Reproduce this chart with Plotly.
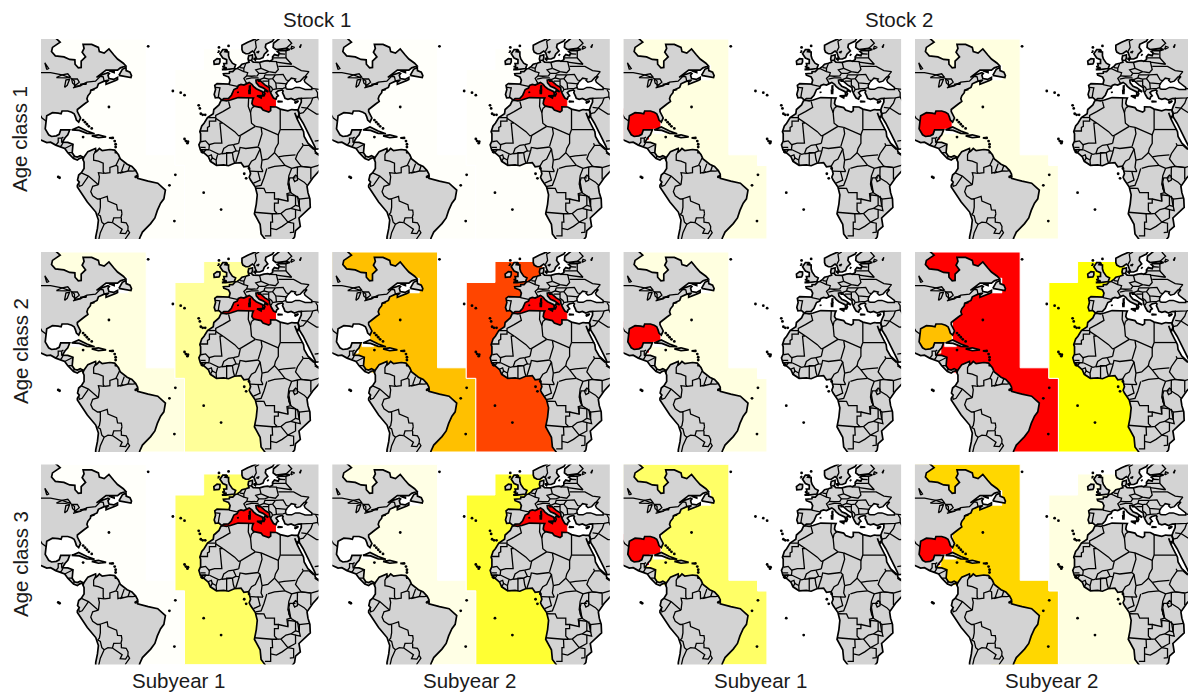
import plotly.graph_objects as go

# ---------- values: zone colours per panel (row by row: S1-Y1, S1-Y2, S2-Y1, S2-Y2) ----------
GOM_COLORS = ["#FFFFFF", "#FFFFFF", "#FF0000", "#FF0000",
              "#FFFFFF", "#FFFFFF", "#FF0000", "#FFC000",
              "#FFFFFF", "#FFFFFF", "#FF0000", "#FF0000"]
WEST_COLORS = ["#FFFFFA", "#FFFFFA", "#FFFFE0", "#FFFFE0",
               "#FFFFE0", "#FFC000", "#FFFFE0", "#FF0000",
               "#FFFFFA", "#FFFFE5", "#FFFF66", "#FFD700"]
EAST_COLORS = ["#FFFFFA", "#FFFFFA", "#FFFFFF", "#FFFFFF",
               "#FFFF99", "#FF4500", "#FFFFFF", "#FFFF00",
               "#FFFF66", "#FFFF33", "#FFFFFF", "#FFFFE0"]
MED_COLORS = ["#FF0000", "#FF0000", "#FFFFFF", "#FFFFFF",
              "#FF0000", "#FF0000", "#FFFFFF", "#FFFFFF",
              "#FF0000", "#FF0000", "#FFFFFF", "#FFFFFF"]

COLUMN_TITLES = ["Stock 1", "Stock 2"]
ROW_TITLES = ["Age class 1", "Age class 2", "Age class 3"]
BOTTOM_TITLES = ["Subyear 1", "Subyear 2", "Subyear 1", "Subyear 2"]

# ---------- zones (lon, lat) ----------
ZONE_GOM = [(-100, 32), (-80.5, 32), (-80.5, 22), (-86.5, 22), (-86.5, 17), (-100, 17)]
ZONE_WEST = [(-100, 65), (-45, 65), (-45, 10), (-30, 10), (-30, 5), (-25, 5), (-25, -30), (-60, -30), (-66, -10),
             (-74, 2), (-78, 7.3), (-80.5, 7.8), (-83, 9.5), (-85, 11.5), (-87, 13.6), (-90, 15), (-90, 18),
             (-86.5, 20), (-86.5, 22), (-80.5, 22), (-80.5, 32), (-85, 35), (-100, 50)]
ZONE_EAST = [(-15, 60.5), (10, 60.5), (10, 53), (3, 48), (0, 44), (-4, 41), (-5.5, 36.2), (-5.5, 35), (-3, 32), (20, 0),
             (20, -30), (-25, -30), (-25, 5), (-30, 5), (-30, 50.5), (-15, 50.5)]
ZONE_MED = [(-5.5, 36.2), (-5.5, 35), (5, 30), (22.5, 30), (22.5, 40), (20, 42.5), (14, 46.5), (11, 46), (8, 45),
            (3, 44), (-1, 41)]
GAP_LAWRENCE = [(-72, 45), (-72, 50), (-63.5, 52.6), (-54.5, 52.6), (-54.5, 45.5), (-63.5, 45.5)]
GAP_STRAIT = [(-84.5, 22.2), (-78.3, 22.2), (-78.3, 20), (-84.5, 20)]

# ---------- land outlines (lon, lat) ----------
AMERICAS = [(-110, 70), (-93, 66), (-90, 63.5), (-94, 61), (-94.5, 59), (-92.5, 57), (-88, 56.5), (-85, 55.3), (-82.3, 55.1),
            (-82.2, 53), (-80.5, 51.3), (-79, 51.5), (-79, 54.5), (-76.7, 56.5), (-78.5, 58.7), (-77.5, 60.5), (-78, 62.4),
            (-73.5, 62.4), (-70, 61), (-69.5, 59), (-67, 58.3), (-64.5, 60.3), (-62, 57.5), (-60, 55.5), (-57, 53.5),
            (-55.7, 52.2), (-58.5, 51.3), (-60, 50.2), (-66, 50.2), (-68, 49), (-71, 46.8), (-68, 48), (-65, 49),
            (-64.3, 48.6), (-65, 47.8), (-64.5, 46.2), (-62, 45.8), (-60, 46.8), (-60, 45.8), (-61, 45.3), (-64, 44.2),
            (-66, 43.5), (-66, 44.5), (-64.5, 45.5), (-67, 45), (-70, 43.7), (-70.7, 42), (-74, 40.6), (-74.2, 39.5),
            (-75.5, 38), (-76, 36.6), (-75.5, 35.3), (-77.5, 34), (-81, 31.5), (-81, 30.5), (-79.3, 27.5), (-80.3, 25.5),
            (-81.5, 26.5), (-82, 28), (-82.7, 29.5), (-84, 30.2), (-86, 30.8), (-89, 30.8), (-89.5, 29.5), (-91, 29.8),
            (-94, 30), (-97, 28.5), (-97.5, 25), (-97.8, 22.3), (-96, 19.5), (-94.5, 18.7), (-92, 19), (-90.5, 19.7),
            (-89.7, 21.8), (-85, 21.8), (-86, 19.5), (-87.5, 18), (-88.8, 16), (-86, 15.9), (-83.3, 15), (-83.5, 12),
            (-83.7, 11), (-82.5, 9.3), (-81, 8.9), (-79.5, 9.6), (-77.7, 8.7), (-75.5, 11.5), (-74, 12), (-71.5, 13),
            (-71.3, 12), (-71.7, 11.2), (-70.5, 12), (-69.5, 13), (-68, 12), (-64, 12.5), (-61.5, 12.2), (-59.5, 10),
            (-58.5, 8), (-55, 5.5), (-52.5, 4.5), (-50.5, 2.5), (-49.5, 0.8), (-49.5, -1.2), (-44, -2.5), (-39, -3.5),
            (-35, -6.8), (-35.8, -10.9), (-37.5, -13), (-39.2, -16.4), (-40.5, -20), (-42.7, -22.7), (-47, -26.7),
            (-48.4, -29.5), (-49, -32), (-71.5, -32), (-71.4, -29), (-70.5, -25), (-70, -21), (-71.4, -17.2), (-75.8, -12.4),
            (-79, -8), (-81, -5.3), (-81, -4.5), (-80, -3), (-80.9, -2), (-80.3, 0.4), (-78.9, 1.5), (-77.5, 3.5),
            (-77.5, 6.5), (-77.9, 7.2), (-78.5, 8.7), (-80, 8.2), (-81, 7.5), (-83, 8.2), (-85, 10), (-86, 11), (-87.6, 13),
            (-90, 13.8), (-92.3, 14.6), (-95, 16), (-97, 15.8), (-100, 17), (-103, 18), (-105.5, 20), (-105.5, 22), (-110, 25)]
EURASIA = [(50, 70), (30, 71), (25, 71), (15, 68), (12, 65), (8, 63.5), (5, 62), (5, 60), (5.5, 58.8), (7, 58), (8.5, 58),
           (10.5, 59.3), (11.5, 58.5), (12, 57), (12.8, 55.5), (14.3, 55.5), (16, 56.2), (16.7, 57.8), (18.5, 59.3),
           (17.2, 61), (17.5, 62.5), (21, 64), (22, 65.5), (25, 65.5), (21.5, 63), (21.3, 61), (22.8, 60), (25, 60.2),
           (28, 60.5), (30, 60), (28, 59.5), (24.5, 59.5), (23.5, 59), (24.5, 58.3), (24, 57.1), (22, 57.6), (21, 56.5),
           (21, 55.2), (19.5, 54.4), (18.5, 54.7), (16.5, 54.5), (14.2, 53.9), (12, 54.2), (10.9, 54), (10, 54.8),
           (10.5, 56), (10.5, 57.5), (8.5, 57), (8.2, 55.5), (8.7, 54), (7, 53.5), (5, 53), (4, 52), (2.5, 51),
           (1.5, 50.8), (0.2, 49.5), (-1.5, 49.5), (-1.6, 48.7), (-4.7, 48.5), (-4.5, 47.8), (-2, 47), (-1.2, 45.5),
           (-1.7, 43.6), (-4, 43.6), (-8, 43.8), (-9.2, 43), (-8.8, 41), (-9.5, 38.7), (-8.9, 37), (-7, 37.2),
           (-6.2, 36.5), (-5.5, 36), (-4.5, 36.7), (-2, 36.8), (-0.5, 38.3), (0, 39.5), (0.8, 41), (2.5, 41.7), (3.1, 43),
           (4.5, 43.4), (6, 43.1), (7.5, 43.8), (8.8, 44.4), (10.2, 43.5), (11, 42.5), (12.5, 41.4), (14.2, 40.8),
           (15.7, 40), (16, 38.8), (15.7, 38), (16.5, 38), (17, 39), (16.6, 39.8), (17, 40.5), (18.4, 40), (18.5, 40.2),
           (16, 41.8), (14, 42.5), (12.5, 44.2), (12.3, 45.4), (13.7, 45.7), (13.7, 45), (14.7, 45.1), (17, 43.2),
           (19.3, 42), (19.5, 40.5), (20.5, 38.5), (21.5, 37), (22.8, 36.5), (23.2, 37.5), (24, 38), (22.8, 39.5),
           (23.8, 40.3), (26, 40.8), (26.5, 40.3), (26.2, 39.5), (27, 38), (27.5, 36.8), (29, 36.3), (30.7, 36.8),
           (32.5, 36), (34.5, 36.7), (36, 36.8), (36, 35), (35, 33), (34.3, 31.3), (34.9, 29.5), (35, 28), (37, 25),
           (39, 21.5), (41, 18), (43, 14), (43.5, 12.7), (45, 12.8), (50, 15)]
AFRICA = [(-5.9, 35.8), (-5.3, 35.9), (-3, 35.6), (-1, 36), (3, 37.2), (7, 37.2), (10, 37.3), (11, 37), (10.5, 36),
          (10.2, 34.3), (11, 33.2), (15, 32.4), (16, 31.3), (19, 30.3), (20, 31), (20, 32.8), (23, 32.7), (25, 31.7),
          (29, 30.9), (31, 31.5), (32.3, 31.3), (34.3, 31.3), (34.9, 29.5), (34.3, 27.8), (33.2, 28.5), (32.6, 30),
          (33.8, 27), (35.5, 24), (37.2, 21), (37.5, 18.7), (39.5, 15.5), (43.1, 12.5), (43.3, 11.5), (44.5, 10.4),
          (51, 12), (51, 10), (47, 4), (42, -1), (39, -5), (39.5, -8), (40.5, -11), (40.7, -15), (36, -19), (34.8, -20),
          (35.5, -24), (33, -26), (32.5, -29), (30, -32), (18, -35), (17, -30), (15, -27.6), (14.5, -23), (11.5, -18),
          (12.5, -13.4), (13, -9), (12, -5.3), (9.5, -2), (8.8, -0.7), (9.5, 1), (9, 3), (8.5, 4.6), (6, 4.3),
          (4.5, 6.3), (1, 6), (-2, 4.8), (-4.5, 5.2), (-8.3, 5), (-11.5, 6.9), (-12.5, 9), (-13.5, 9.8),
          (-15, 10.9), (-16.7, 12.3), (-17.5, 14.7), (-16.6, 16.5), (-16.6, 20), (-17, 21), (-16, 23.7), (-14.8, 25),
          (-13, 27.7), (-10, 29.5), (-9.7, 31.5), (-7, 33.7)]
GREAT_BRITAIN = [(-5.5, 50.5), (-3.5, 50.5), (1, 51), (1.7, 52.7), (0, 53.5), (-1.5, 55.5), (-2, 57), (-2, 58.8), (-3.8, 59),
                 (-3, 60), (-5, 60), (-6.5, 58), (-5, 56), (-3, 55.2), (-3, 53.4), (-4.5, 53.3), (-4.2, 52.3),
                 (-5.2, 51.8), (-3, 51.3)]
IRELAND = [(-6.5, 54), (-7, 53.2), (-9.5, 53), (-9.7, 54.5), (-8, 55.7), (-6.5, 55.5)]
NEWFOUNDLAND = [(-59.3, 47.7), (-55.5, 46.9), (-53, 46.7), (-52.7, 47.6), (-53.5, 49.2), (-55.5, 50), (-55.6, 51.5), (-57.5, 50.6), (-59, 48.5)]
CUBA = [(-84, 21.8), (-80.3, 23.2), (-76, 21.3), (-72, 20), (-76, 20.2), (-80, 21.6)]
HISPANIOLA = [(-73.5, 19), (-70, 19.5), (-66, 18.5), (-70, 18.1)]
PUERTO_RICO = [(-64.5, 18), (-63, 18.2), (-63.2, 17.8)]
TRINIDAD = [(-61.5, 11), (-60.8, 11.5), (-60.8, 11)]
SICILY = [(12.8, 38), (15.3, 38.1), (15, 37), (13, 37.6)]
SARDINIA = [(8.6, 41), (9.3, 41), (9.2, 39.2), (8.7, 39.2)]
CORSICA = [(9, 43), (9.3, 42.8), (9.2, 41.5), (8.9, 41.6)]
CRETE = [(23.6, 35.5), (26.3, 35.3), (24, 35.1)]
CYPRUS = [(32.4, 35), (34.5, 35.6), (33.8, 34.9), (32.9, 34.6)]
MALLORCA = [(2.4, 39.6), (3.4, 39.8), (3, 39.4)]
ANTICOSTI = [(-64.5, 49.9), (-61.8, 49.5), (-61.8, 49.1)]
ZEALAND = [(11, 55.7), (12.5, 56), (12, 55)]
GOTLAND = [(18.2, 57), (19, 57.9), (18.8, 57.2)]
LONG_ISLAND = [(-74, 40.6), (-72, 41), (-72.5, 40.7)]
LEWIS = [(-7.6, 59), (-6.8, 59.5), (-7.4, 58.5)]
ISLAND_POLYS = [GREAT_BRITAIN, IRELAND, NEWFOUNDLAND, CUBA, HISPANIOLA, PUERTO_RICO, TRINIDAD, SICILY, SARDINIA,
                CORSICA, CRETE, CYPRUS, MALLORCA, ANTICOSTI, ZEALAND, GOTLAND, LONG_ISLAND, LEWIS]
BLACK_SEA = [(28, 41.4), (27.8, 43), (28.6, 44.3), (29.7, 45.2), (30.8, 46.4), (33, 46), (32.6, 45.4), (33.6, 44.5), (35.5, 45),
             (37.5, 47), (39, 47.2), (37.5, 45.5), (38, 44.4), (41.5, 42), (41.5, 41), (38, 41), (35, 42), (33, 42),
             (31, 41.1), (29, 41.1)]
LAKES = [[(-92, 46.7), (-89, 48), (-86, 48.5), (-84.7, 47), (-87, 46.5), (-92, 46.7)],
         [(-87.7, 42), (-87, 45.5), (-85, 46), (-86.3, 43), (-87.7, 42)],
         [(-84, 46), (-81, 46), (-80, 44.5), (-82, 43), (-83.5, 44), (-84, 46)],
         [(-83.3, 41.8), (-79, 42.8), (-80, 42.2), (-83.3, 41.8)],
         [(-79.7, 43.4), (-76.3, 44), (-76.5, 43.4), (-79.7, 43.4)],
         [(-97, 50.5), (-98, 53.7), (-96, 51), (-97, 50.5)],
         [(31.7, -1), (33, 0.3), (34, -0.3), (34, -2), (32.5, -2.7), (31.7, -1)],
         [(29.3, -3.5), (29.5, -6), (30.5, -8)], [(34, -9.5), (34.8, -14)],
         [(12.5, 58.7), (14, 59.3), (13.5, 58.5), (12.5, 58.7)],
         [(30.5, 60), (32.5, 61), (31, 61.5), (30.5, 60)], [(35, 61), (36, 62.5), (35.5, 61), (35, 61)]]

# ---------- borders (lon, lat) ----------
BORDERS_NORTH_AMERICA = [
    [(-110, 49), (-95, 49), (-89, 48), (-84.5, 46.5), (-82.5, 45), (-82.5, 42.5), (-79, 43), (-76, 44.5), (-71.5, 45), (-69, 47.3), (-67.5, 47), (-67, 45)],
    [(-106, 31.8), (-103, 29), (-101, 29.8), (-99.5, 27.5), (-97.2, 25.9)],
    [(-92.2, 14.6), (-91, 16), (-91, 17.9), (-89.2, 17.9), (-88.3, 18.4)], [(-89.2, 17.9), (-89.2, 15.9)],
    [(-90, 13.8), (-89.3, 14.4), (-88.5, 15.8)], [(-87.6, 13), (-85, 14), (-83.2, 15)],
    [(-85.7, 11), (-83.7, 11)], [(-83, 8.2), (-82.6, 9.6)], [(-77.9, 7.2), (-77.7, 8.7)]]
BORDERS_SOUTH_AMERICA = [
    [(-71.3, 12), (-72.5, 10), (-72.5, 7.4), (-70, 7), (-67.5, 6), (-67.5, 2), (-66.9, 1.2)],
    [(-66.9, 1.2), (-70, 1.5), (-69.5, -0.5), (-70, -4.2)], [(-78.9, 1.4), (-75.2, -0.1), (-70, -4.2)],
    [(-80.3, -3.4), (-80, -5), (-78.5, -4.5), (-75.2, -0.1)], [(-70, -4.2), (-73, -5), (-74, -7.5), (-73, -9.5), (-70.5, -11), (-69, -11)],
    [(-69.5, -11), (-65.4, -9.8), (-65, -12), (-60.5, -13.7), (-60, -16.2), (-58, -16.3), (-57.7, -18)],
    [(-69, -11), (-69, -15), (-69.5, -17.5), (-70.4, -18.3)], [(-70.4, -18.3), (-69, -19), (-68.2, -22), (-67, -23), (-69, -27), (-70, -31)],
    [(-67, -23), (-65, -22), (-62.7, -22.2)], [(-62.7, -22.2), (-62, -20), (-58.2, -19.8), (-57.7, -18)],
    [(-58, -20), (-58, -22), (-55.5, -22.3), (-54.5, -24), (-54.6, -25.6)],
    [(-62.7, -22.2), (-60, -24), (-57.6, -25.3), (-58.6, -27.2), (-55.8, -27.4), (-54.6, -25.6)],
    [(-54.6, -25.6), (-53.7, -27), (-56, -30)], [(-59, 8.5), (-61, 5.2), (-60.8, 5)],
    [(-66.9, 1.2), (-64, 1.5), (-64, 4), (-60.8, 5)], [(-60.8, 5), (-59.9, 4.5), (-59.8, 1.3), (-57, 2)],
    [(-56.5, 5.8), (-58, 2)], [(-53.5, 5), (-54.5, 2.3)], [(-58.8, 1.3), (-54.5, 2.3), (-52, 2.2), (-50.5, 2.5)]]
BORDERS_AFRICA = [
    [(-2, 35.4), (-1.2, 32.5), (-5, 30.5), (-8.7, 28.7), (-8.7, 27.3)], [(-13, 27.7), (-8.7, 27.7)],
    [(-8.7, 27.3), (-8.7, 26), (-12, 26), (-12, 23.5), (-13, 23), (-13, 21.3), (-17, 21.3)],
    [(-8.7, 27.3), (-4.8, 25), (-6.5, 25), (-5.5, 15.5), (-9.3, 15.5), (-12.2, 14.8), (-14, 16.6), (-16.4, 16.2)],
    [(-4.8, 25), (1.2, 21), (3.3, 19), (4.2, 19.2)], [(4.2, 19.2), (12, 23.5)], [(12, 23.5), (10, 25), (9.5, 30), (10, 32)],
    [(8.5, 37.1), (8.3, 33), (9.5, 30)], [(10, 32), (11.5, 33.1)], [(25, 31.6), (25, 22)], [(25, 22), (37, 22)],
    [(25, 22), (24, 19.5), (15, 23)], [(15, 23), (12, 23.5)], [(15, 23), (15.5, 20), (13.5, 14)],
    [(24, 19.5), (24, 15.5), (22.5, 13), (22, 11), (24, 9)], [(15.5, 7.5), (18.5, 8), (22, 11)],
    [(13.5, 13.7), (10, 13.2), (7, 13), (4, 13.5), (3.6, 11.7)], [(3.3, 15.4), (4.2, 19.2)], [(0.5, 14.8), (3.3, 15.4)],
    [(0.5, 14.8), (2, 11.8), (3.6, 11.7)], [(-5.5, 10.5), (-4.5, 13), (-2, 14.5), (0.5, 14.8)],
    [(-12, 12.4), (-8.5, 11), (-7, 10.2), (-5.5, 10.5)], [(-16.7, 12.4), (-12.3, 12.4), (-12, 14.8)],
    [(-16.7, 13.5), (-14, 13.5)], [(-16.7, 12.3), (-13.7, 12.6), (-15, 11)], [(-12.8, 9.3), (-11, 10), (-10.5, 8.5)],
    [(-11.5, 6.9), (-10.5, 8.5), (-8.5, 7.5), (-8.3, 5)], [(-8.5, 7.5), (-7.7, 10.2)], [(-3, 5), (-2.8, 9.5), (-3, 11), (0, 11)],
    [(1.2, 6), (0.5, 8), (0, 11)], [(1.7, 6.2), (2.5, 9), (3.6, 11.7)], [(-5.5, 10.5), (-3, 10.8), (0, 11), (2, 12)],
    [(8.5, 4.6), (10, 7), (12, 8), (14.5, 12.7), (13.5, 13.7)], [(14.5, 12.7), (15, 10), (15.5, 7.5)], [(15.5, 7.5), (15, 4), (16, 2)],
    [(9.3, 2.2), (13.3, 2.2), (16, 2)], [(13.3, 2.2), (14.5, -2), (11, -3.5)], [(12.2, -5), (15, -4.5), (16.5, -1), (18, 3.5)],
    [(18.5, 3.5), (22, 4.5), (27.5, 5)], [(24, 9), (27.5, 5)], [(27.5, 5), (31, 3.6), (34, 4.2), (36, 4.5), (41, 4)],
    [(31, 3.6), (29.5, 0), (29, -4), (30.5, -8), (28.5, -8.5), (29, -12)],
    [(12, -5.9), (16.5, -6), (17.5, -8), (22, -8), (22, -11), (24, -11), (24, -13), (22, -13), (22, -16.5), (23.5, -18), (20.8, -18), (14, -17.4), (11.5, -17.3)],
    [(24, -11), (28, -12), (29, -12), (29, -9), (33, -9.5), (33, -11), (33, -14), (30.5, -15.5), (28, -16), (25.5, -17.8), (23.5, -18)],
    [(20.8, -18), (21, -22), (20, -22), (20, -28.5), (17, -28.5)], [(20, -25), (23, -25.5), (26, -24), (29, -22), (25.3, -17.8)],
    [(29, -22), (33, -20), (33, -16), (30.5, -15.5)], [(33, -14), (35, -14.5), (35, -11), (40.5, -10.5)], [(33, -9.5), (35, -11)],
    [(35, -14.5), (35.5, -16.5), (33, -16)], [(29, -22), (32, -22.5), (32, -26.8), (30, -27)],
    [(33, -1), (30, -1), (29.5, -2.8), (30.5, -8), (33, -9.5)], [(33.9, -1), (37.5, -3), (39.2, -4.6)], [(34, 4.2), (34, 0), (33.9, -1)],
    [(36, 4.5), (41, 3.9)], [(41, 3.9), (41, -1.7)], [(41, 3.9), (45, 5), (48, 8), (43, 11)],
    [(36, 4.5), (33, 8), (34, 10.5), (36, 13), (37, 14.5), (36.5, 15.5)], [(37, 14.5), (40, 14.5), (42.5, 12.5)], [(24, 9), (27, 9.5), (33, 10)]]
BORDERS_EURASIA = [
    [(36, 36.8), (42, 37), (44.5, 37.5), (44.5, 39.5), (43.5, 41)], [(42, 37), (41, 34.5), (39, 32.2)],
    [(36, 32.5), (39, 32.2), (37, 30), (35, 29.5)], [(39, 32.2), (44, 29.3), (48, 29.5)], [(43, 16.5), (47, 17), (52, 19)],
    [(-8.8, 42), (-6.5, 41.8), (-7, 39.5), (-7.4, 37.2)], [(-1.7, 43.3), (3.1, 42.4)],
    [(2.5, 51), (4.5, 50), (6, 49.5), (8, 49), (7.5, 47.5), (6, 46.3), (7, 44), (7.5, 43.8)], [(7, 53.3), (6, 51), (6, 49.5)],
    [(4, 51.4), (6, 51.2)], [(8.7, 54.9), (10, 54.8)], [(14.2, 53.9), (15, 51)],
    [(15, 51), (12.2, 50.3), (13.8, 48.7), (13, 47.5), (10, 47.3), (7.5, 47.5)], [(7, 45.9), (10, 46.5), (13.7, 46.5)],
    [(19.5, 54.4), (23, 54.3), (24, 50.5), (22.5, 49), (19, 49.5), (15, 51)], [(13.8, 48.7), (17, 48.7), (19, 49.5)],
    [(17, 48), (22.5, 48), (21, 46.2), (19, 45.9), (16.5, 46.5), (17, 48)], [(22.5, 48), (26.5, 48.2), (28.2, 45.5), (29.7, 45.2)],
    [(28.6, 43.7), (22.7, 44.2), (21, 46.2)], [(22.7, 44.2), (23, 41.3), (26.5, 41.5), (28, 42)], [(20.2, 39.7), (21, 41), (23, 41.3)],
    [(13.7, 45.5), (16.5, 46.5)], [(19, 45.9), (19, 43), (20.5, 42), (21, 41)], [(15.7, 45), (19, 45)],
    [(24, 52), (32, 52), (36, 50), (40, 49.5), (38, 47.2)], [(21, 56), (28, 56), (31, 53), (23, 54)], [(24.5, 58), (27.5, 57.8)],
    [(28, 59.5), (28, 56)], [(28, 60.5), (31, 63), (29, 65)], [(11.3, 59), (12.5, 61), (12, 64), (14, 65)],
    [(41.5, 41.5), (46, 41)], [(44.5, 37.5), (46, 35), (48, 30)]]

# ---------- tiny islands drawn as specks (lon, lat) ----------
SPECK_LON = [-44, -2, -3, -7, -64.5, -29.8, -32.9, -30.3, -31.1, -27, -25, -17.6, -17, -16.5, -15.5, -14.2, -25, -24.3, -23.5, -23.2,
             -15, -5.9, 6.2, 7.2, 8.7, -91, -90.3, -78, -77, -76, -75, -73.5, -78, -62.5, -61.5, -61, -61, -50.5, -49.8, -16, -15.6]
SPECK_LAT = [61.5, 61.7, 59.5, 61, 32.7, 0.5, -4.5, -21.5, 40.3, 39.5, 38.3, 33.5, 32, 29.5, 29, 29, 17.5, 16.5, 15.5, 16.2,
             -8, -16, 1, -1.2, 3.5, -0.5, -0.9, 26.5, 25.5, 24.5, 23.5, 22.5, 18.4, 18, 16.5, 15, 13.7, -0.5, -0.2, 11.5, 11.2]

# ---------- layout ----------
FIG_W, FIG_H = 1188, 695
COL_LEFT = [41, 332.3, 623.6, 914.9]
PANEL_W = 277.5
ROW_TOP = [39, 252, 464.5]
PANEL_H = 200
LON_RANGE = (-100, 45)
LAT_RANGE = (-30, 65)
LAND_GREY = "#D3D3D3"


def flat(polys):
    xs, ys = [], []
    for p in polys:
        for a, b in p:
            xs.append(a)
            ys.append(b)
        xs.append(None)
        ys.append(None)
    return xs, ys


def closed(p):
    return list(p) + [p[0]]


fig = go.Figure()
layout_axes = {}
common = dict(mode="lines", hoverinfo="skip", showlegend=False)

for r in range(3):
    for c in range(4):
        i = r * 4 + c
        suffix = "" if i == 0 else str(i + 1)
        xa, ya = "x" + suffix, "y" + suffix
        kw = dict(xaxis=xa, yaxis=ya, **common)
        for poly, col in ((ZONE_WEST, WEST_COLORS[i]), (ZONE_EAST, EAST_COLORS[i]), (ZONE_GOM, GOM_COLORS[i]), (ZONE_MED, MED_COLORS[i])):
            px, py = flat([closed(poly)])
            line_col = "#FFFFFF" if poly is not ZONE_MED else col
            fig.add_trace(go.Scatter(x=px, y=py, fill="toself", fillcolor=col, line=dict(color=line_col, width=1), **kw))
        px, py = flat([closed(GAP_LAWRENCE), closed(GAP_STRAIT)])
        fig.add_trace(go.Scatter(x=px, y=py, fill="toself", fillcolor="#FFFFFF", line=dict(color="#FFFFFF", width=0.5), **kw))
        px, py = flat([closed(AMERICAS), closed(EURASIA), closed(AFRICA)] + [closed(p) for p in ISLAND_POLYS])
        fig.add_trace(go.Scatter(x=px, y=py, fill="toself", fillcolor=LAND_GREY, line=dict(color="#000000", width=1.7), **kw))
        px, py = flat([closed(BLACK_SEA)])
        fig.add_trace(go.Scatter(x=px, y=py, fill="toself", fillcolor="#FFFFFF", line=dict(color="#000000", width=1.5), **kw))
        px, py = flat(BORDERS_NORTH_AMERICA + BORDERS_SOUTH_AMERICA + BORDERS_AFRICA + BORDERS_EURASIA + LAKES)
        fig.add_trace(go.Scatter(x=px, y=py, line=dict(color="#000000", width=1.3), **kw))
        fig.add_trace(go.Scatter(x=SPECK_LON, y=SPECK_LAT, xaxis=xa, yaxis=ya, mode="markers", hoverinfo="skip",
                                 showlegend=False, marker=dict(color="#000000", size=2.8)))
        left = COL_LEFT[c]
        right = min(left + PANEL_W, FIG_W)
        lon_hi = LON_RANGE[0] + (LON_RANGE[1] - LON_RANGE[0]) * (right - left) / PANEL_W
        top = ROW_TOP[r]
        layout_axes["xaxis" + suffix] = dict(domain=[left / FIG_W, right / FIG_W], range=[LON_RANGE[0], lon_hi], visible=False, fixedrange=True)
        layout_axes["yaxis" + suffix] = dict(domain=[1 - (top + PANEL_H) / FIG_H, 1 - top / FIG_H], range=list(LAT_RANGE), visible=False, fixedrange=True)

text_font = dict(family="Liberation Sans, Arial, sans-serif", size=20.5, color="#1a1a1a")
notes = []
for cx, t in zip((317, 899), COLUMN_TITLES):
    notes.append(dict(x=cx / FIG_W, y=1 - 19 / FIG_H, text=t))
for cx, t in zip((178, 469, 760, 1051), BOTTOM_TITLES):
    notes.append(dict(x=cx / FIG_W, y=1 - 680 / FIG_H, text=t))
for cy, t in zip((139, 351, 564), ROW_TITLES):
    notes.append(dict(x=20 / FIG_W, y=1 - cy / FIG_H, text=t, textangle=-90))
for n in notes:
    n.update(xref="paper", yref="paper", xanchor="center", yanchor="middle", showarrow=False, font=text_font)

fig.update_layout(width=FIG_W, height=FIG_H, margin=dict(l=0, r=0, t=0, b=0), paper_bgcolor="#FFFFFF", plot_bgcolor="#FFFFFF",
                  showlegend=False, annotations=notes, **layout_axes)
fig.write_html("out.html", config=dict(displayModeBar=False), post_script="document.body.style.margin='0';document.body.style.overflow='hidden';")
